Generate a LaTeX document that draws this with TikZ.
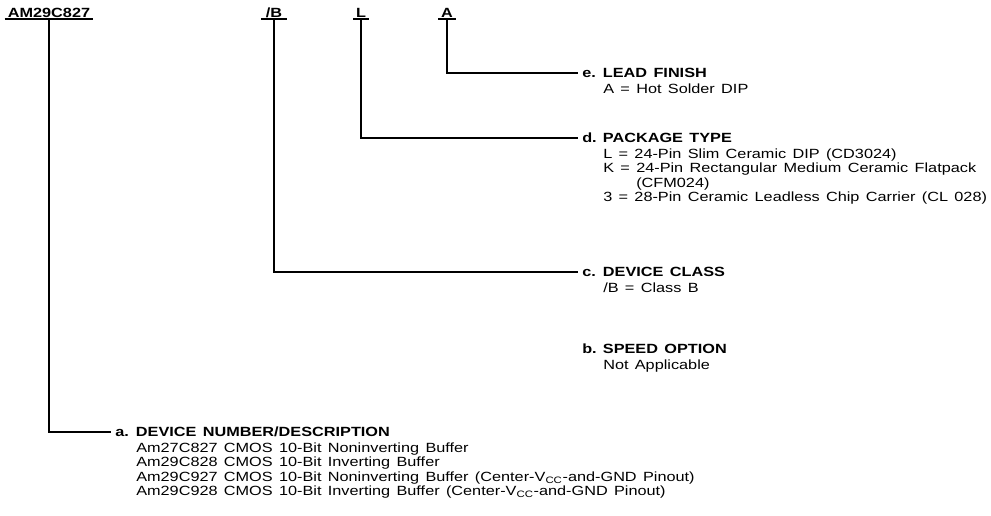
\documentclass[tikz,border=0pt]{standalone}
\usepackage{fontspec}
\setmainfont{Liberation Sans}[FakeStretch=1.22, WordSpace=1.4]
\usetikzlibrary{positioning}

\tikzset{
  field/.style={font=\bfseries\fontsize{10}{10}\selectfont, inner sep=1pt, anchor=south},
  lead/.style={line width=1.3pt},
  head/.style={font=\bfseries\fontsize{10}{10}\selectfont, anchor=west, inner xsep=3pt, inner ysep=1pt,
               text height=7.2pt, text depth=0pt},
  body/.style={font=\fontsize{10}{10.9}\selectfont, align=left, anchor=north west, inner sep=0pt}
}
\newcommand{\itemtag}[1]{\makebox[15.5pt][l]{#1}}

\begin{document}
\begin{tikzpicture}[x=0.75pt, y=-0.75pt]
  \useasboundingbox (0,0) rectangle (991,515);

  % ordering code fields
  \node[field, minimum width=66pt] (dev) at (49,19) {AM29C827};
  \node[field, minimum width=19pt] (cls) at (274,19) {/B};
  \node[field, minimum width=11pt] (pkg) at (361,19) {L};
  \node[field, minimum width=13pt] (fin) at (447,19) {A};
  \foreach \f in {dev, cls, pkg, fin}
    \draw[lead] (\f.south west) -- (\f.south east);

  % descriptions
  \node[head] (finh) at (578,73) {\itemtag{e.}LEAD FINISH};
  \node[body] (fint) at ([shift={(25,3.5)}]finh.south west) {\strut A = Hot Solder DIP};

  \node[head] (pkgh) at (578,138) {\itemtag{d.}PACKAGE TYPE};
  \node[body] (pkgt) at ([shift={(25,3.5)}]pkgh.south west) {\strut L = 24-Pin Slim Ceramic DIP (CD3024)\\
    K = 24-Pin Rectangular Medium Ceramic Flatpack\\
    \phantom{K = }(CFM024)\\
    3 = 28-Pin Ceramic Leadless Chip Carrier (CL 028)};

  \node[head] (clsh) at (578,272) {\itemtag{c.}DEVICE CLASS};
  \node[body] (clst) at ([shift={(25,3.5)}]clsh.south west) {\strut /B = Class B};

  \node[head] (spdh) at (578,349) {\itemtag{b.}SPEED OPTION};
  \node[body] (spdt) at ([shift={(25,3.5)}]spdh.south west) {\strut Not Applicable};

  \node[head] (devh) at (111,432) {\itemtag{a.}DEVICE NUMBER/DESCRIPTION};
  \node[body] (devt) at ([shift={(25,3.5)}]devh.south west) {\strut Am27C827 CMOS 10-Bit Noninverting Buffer\\
    Am29C828 CMOS 10-Bit Inverting Buffer\\
    Am29C927 CMOS 10-Bit Noninverting Buffer (Center-V\textsubscript{CC}-and-GND Pinout)\\
    Am29C928 CMOS 10-Bit Inverting Buffer (Center-V\textsubscript{CC}-and-GND Pinout)};

  % leaders
  \draw[lead] (fin.south) |- (finh.west);
  \draw[lead] (pkg.south) |- (pkgh.west);
  \draw[lead] (cls.south) |- (clsh.west);
  \draw[lead] (dev.south) |- (devh.west);
\end{tikzpicture}
\end{document}
